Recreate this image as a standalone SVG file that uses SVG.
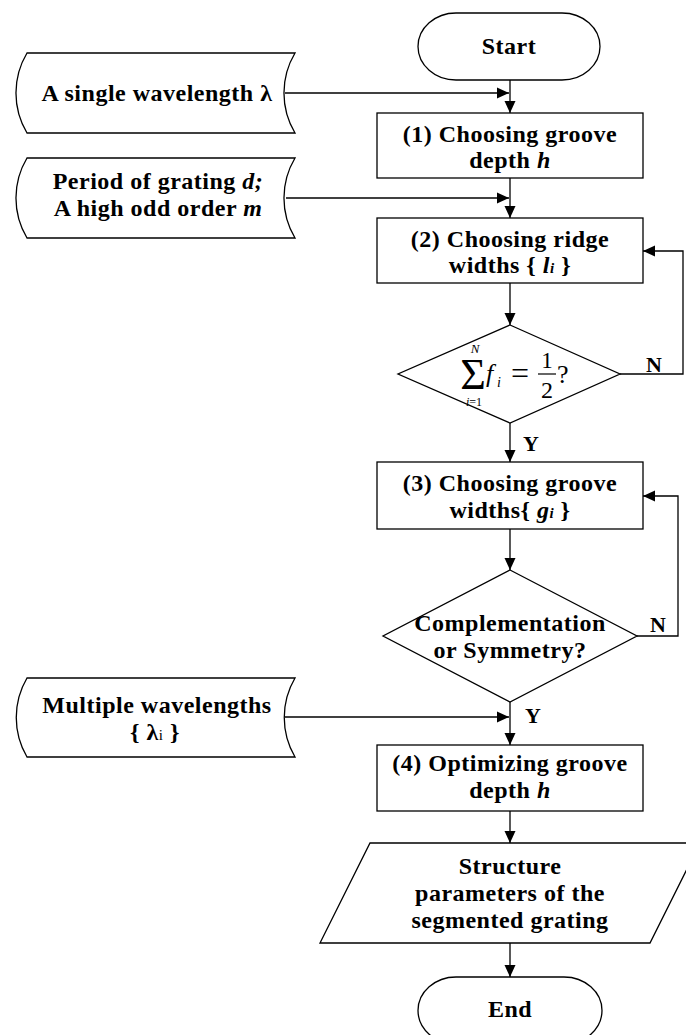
<svg xmlns="http://www.w3.org/2000/svg" width="686" height="1035" viewBox="0 0 686 1035">
<defs>
<marker id="arr" markerUnits="userSpaceOnUse" markerWidth="13" markerHeight="12" refX="12" refY="6" orient="auto">
<path d="M0,0.5 L12,6 L0,11.5 z" fill="#000"/>
</marker>
<style>
.sh{fill:#fff;stroke:#000;stroke-width:1.3}
.cn{fill:none;stroke:#000;stroke-width:1.3}
.t{font-family:"Liberation Serif","Times New Roman",serif;font-weight:bold;font-size:24px;letter-spacing:0.5px;text-anchor:middle;fill:#000}
.it{font-style:italic}
.sub{font-size:15px}
.m{font-family:"Liberation Serif","Times New Roman",serif;font-weight:normal;fill:#000}
.lb{font-family:"Liberation Serif","Times New Roman",serif;font-weight:bold;font-size:22px;fill:#000}
</style>
</defs>
<rect width="686" height="1035" fill="#fff"/>

<g id="connectors">
<line class="cn" x1="510" y1="80" x2="510" y2="113" marker-end="url(#arr)"/>
<line class="cn" x1="285" y1="93" x2="509" y2="93" marker-end="url(#arr)"/>
<line class="cn" x1="510" y1="178" x2="510" y2="218" marker-end="url(#arr)"/>
<line class="cn" x1="286" y1="198" x2="509" y2="198" marker-end="url(#arr)"/>
<line class="cn" x1="510" y1="283" x2="510" y2="325" marker-end="url(#arr)"/>
<line class="cn" x1="510" y1="423" x2="510" y2="462" marker-end="url(#arr)"/>
<polyline class="cn" points="620,374 683,374 683,251 643,251" marker-end="url(#arr)"/>
<line class="cn" x1="510" y1="529" x2="510" y2="570" marker-end="url(#arr)"/>
<line class="cn" x1="510" y1="702" x2="510" y2="745" marker-end="url(#arr)"/>
<line class="cn" x1="285" y1="717" x2="509" y2="717" marker-end="url(#arr)"/>
<polyline class="cn" points="637,636 678,636 678,496 643,496" marker-end="url(#arr)"/>
<line class="cn" x1="510" y1="811" x2="510" y2="843" marker-end="url(#arr)"/>
<line class="cn" x1="510" y1="943" x2="510" y2="977" marker-end="url(#arr)"/>
<text class="lb" x="523" y="451">Y</text>
<text class="lb" x="525" y="723">Y</text>
<text class="lb" x="646" y="372">N</text>
<text class="lb" x="650" y="632">N</text>
</g>

<g id="start">
<rect class="sh" x="418" y="13" width="182" height="67" rx="38" ry="33.5"/>
<text class="t" x="509" y="54">Start</text>
</g>

<g id="input-single">
<path class="sh" d="M27,53 H295 A78,78 0 0 0 295,133 H27 A78,78 0 0 1 27,53 Z"/>
<text class="t" x="157" y="101">A single wavelength λ</text>
</g>

<g id="step1">
<rect class="sh" x="377" y="113" width="266" height="65"/>
<text class="t" x="510" y="142">(1) Choosing groove</text>
<text class="t" x="510" y="168">depth <tspan class="it">h</tspan></text>
</g>

<g id="input-period">
<path class="sh" d="M27,158 H295 A78,78 0 0 0 295,238 H27 A78,78 0 0 1 27,158 Z"/>
<text class="t" x="158" y="189">Period of grating <tspan class="it">d;</tspan></text>
<text class="t" x="158" y="216">A high odd order <tspan class="it">m</tspan></text>
</g>

<g id="step2">
<rect class="sh" x="377" y="218" width="266" height="65"/>
<text class="t" x="510" y="247">(2) Choosing ridge</text>
<text class="t" x="510" y="273">widths { <tspan class="it">l</tspan><tspan class="it sub">i</tspan> }</text>
</g>

<g id="decision1">
<polygon class="sh" points="510,325 620,374 510,423 398,374"/>
<text class="m" x="473" y="389" font-size="44" text-anchor="middle">Σ</text>
<text class="m it" x="475" y="353" font-size="13" text-anchor="middle">N</text>
<text class="m" x="474" y="406" font-size="12" text-anchor="middle"><tspan font-style="italic">i</tspan>=1</text>
<text class="m it" x="486" y="382" font-size="26">f</text>
<text class="m it" x="497" y="387" font-size="14">i</text>
<text class="m" x="520" y="384" font-size="32" text-anchor="middle">=</text>
<text class="m" x="547" y="368" font-size="23" text-anchor="middle">1</text>
<line x1="538" y1="374" x2="556" y2="374" stroke="#000" stroke-width="1.2"/>
<text class="m" x="547" y="398" font-size="24" text-anchor="middle">2</text>
<text class="m" x="557" y="383" font-size="26">?</text>
</g>

<g id="step3">
<rect class="sh" x="377" y="462" width="266" height="67"/>
<text class="t" x="510" y="491">(3) Choosing groove</text>
<text class="t" x="510" y="518">widths{ <tspan class="it">g</tspan><tspan class="it sub">i</tspan> }</text>
</g>

<g id="decision2">
<polygon class="sh" points="510,570 637,636 510,702 383,636"/>
<text class="t" x="510" y="631">Complementation</text>
<text class="t" x="510" y="658">or Symmetry?</text>
</g>

<g id="input-multiple">
<path class="sh" d="M27,678 H295 A78,78 0 0 0 295,757 H27 A78,78 0 0 1 27,678 Z"/>
<text class="t" x="157" y="713">Multiple wavelengths</text>
<text class="t" x="155" y="740">{ λ<tspan class="sub" font-weight="normal">i</tspan> }</text>
</g>

<g id="step4">
<rect class="sh" x="377" y="745" width="266" height="66"/>
<text class="t" x="510" y="771">(4) Optimizing groove</text>
<text class="t" x="510" y="798">depth <tspan class="it">h</tspan></text>
</g>

<g id="output">
<polygon class="sh" points="370,843 700,843 650,943 320,943"/>
<text class="t" x="510" y="874">Structure</text>
<text class="t" x="510" y="901">parameters of the</text>
<text class="t" x="510" y="928">segmented grating</text>
</g>

<g id="end">
<rect class="sh" x="418" y="977" width="184" height="67" rx="38" ry="33.5"/>
<text class="t" x="510" y="1017">End</text>
</g>
</svg>
